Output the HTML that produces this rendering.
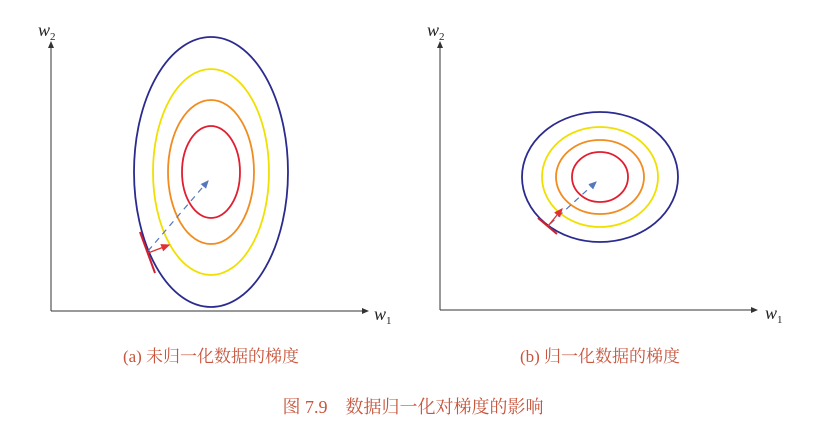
<!DOCTYPE html>
<html><head><meta charset="utf-8"><style>
body{margin:0;background:#fff;width:827px;height:425px;overflow:hidden}
svg{display:block}
.cap{font-family:"Liberation Serif","Noto Serif CJK SC",serif;fill:#c8553d;font-size:17px}
.lab{font-family:"Liberation Serif",serif;font-style:italic;font-size:18px;fill:#222}
.sub{font-style:normal;font-size:11px}
</style></head><body>
<svg id="fig" width="827" height="425">
<defs>
<marker id="ab" markerWidth="8" markerHeight="8" refX="6" refY="3" orient="auto"><path d="M0,0L7,3L0,6z" fill="#5577bb"/></marker>
<marker id="ar" markerWidth="8" markerHeight="8" refX="6" refY="3" orient="auto"><path d="M0,0L7,3L0,6z" fill="#e03030"/></marker>
<marker id="ak" markerWidth="8" markerHeight="8" refX="6" refY="3" orient="auto"><path d="M0,0L7,3L0,6z" fill="#333"/></marker>
</defs>
<g>
<line x1="51" y1="311" x2="368" y2="311" stroke="#333" marker-end="url(#ak)"/>
<line x1="51" y1="311" x2="51" y2="42" stroke="#333" marker-end="url(#ak)"/>
<text class="lab" x="38" y="36">w<tspan class="sub" dy="4">2</tspan></text>
<text class="lab" x="374" y="320">w<tspan class="sub" dy="4">1</tspan></text>
<g id="ella"></g>
<line x1="148" y1="251" x2="208" y2="181" stroke="#5577bb" stroke-width="1.2" stroke-dasharray="6,5" marker-end="url(#ab)"/>
<line x1="140" y1="232" x2="155" y2="273" stroke="#d02030" stroke-width="2"/>
<line x1="148" y1="253" x2="169" y2="245" stroke="#e03030" stroke-width="1.3" marker-end="url(#ar)"/>
<text class="cap" x="211" y="362" text-anchor="middle">(a) 未归一化数据的梯度</text>
</g>
<g>
<line x1="440" y1="310" x2="757" y2="310" stroke="#333" marker-end="url(#ak)"/>
<line x1="440" y1="310" x2="440" y2="42" stroke="#333" marker-end="url(#ak)"/>
<text class="lab" x="427" y="36">w<tspan class="sub" dy="4">2</tspan></text>
<text class="lab" x="765" y="319">w<tspan class="sub" dy="4">1</tspan></text>
<g id="ellb"></g>
<line x1="550" y1="224" x2="596" y2="182" stroke="#5577bb" stroke-width="1.2" stroke-dasharray="6,5" marker-end="url(#ab)"/>
<line x1="538" y1="218" x2="557" y2="234" stroke="#d02030" stroke-width="2"/>
<line x1="548" y1="226" x2="562" y2="209" stroke="#e03030" stroke-width="1.3" marker-end="url(#ar)"/>
<text class="cap" x="600" y="362" text-anchor="middle">(b) 归一化数据的梯度</text>
</g>
<text class="cap" x="413" y="413" text-anchor="middle" style="font-size:18px">图 7.9　数据归一化对梯度的影响</text>
</svg>
<script>
const colors=["#2b2b8f","#f0e000","#f08c20","#e02030"];
const rxA=[77,58,43,29], ryA=[135,103,72,46];
const rxB=[78,58,44,28], ryB=[65,50,37,25];
function draw(id,cx,cy,rx,ry,tag){
  const g=document.getElementById(id);
  rx.forEach((r,i)=>{
    const e=document.createElementNS("http://www.w3.org/2000/svg","ellipse");
    
    
    e.setAttribute("cx",cx);e.setAttribute("cy",cy);
    e.setAttribute("rx",r);e.setAttribute("ry",ry[i]);
    e.setAttribute("fill","none");e.setAttribute("stroke",colors[i]);e.setAttribute("stroke-width","1.8");
    g.appendChild(e);
  });
}
draw("ella",211,172,rxA,ryA,"a");
draw("ellb",600,177,rxB,ryB,"b");
</script>
</body></html>
